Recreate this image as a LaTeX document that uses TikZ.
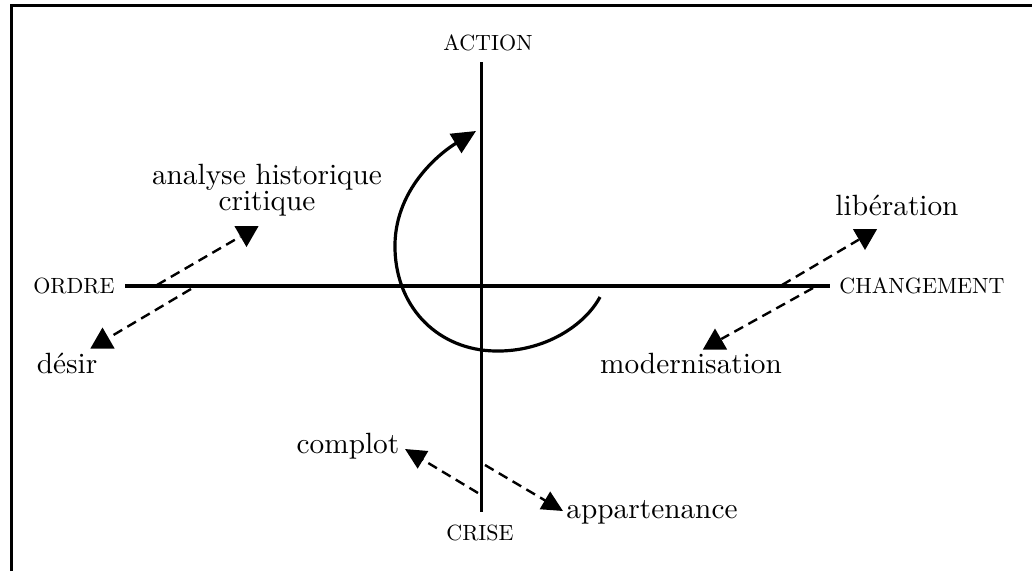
\documentclass[tikz,border=0pt]{standalone}
\usepackage{fontspec}
\setmainfont{lmroman10-regular.otf}
\usetikzlibrary{arrows.meta,shapes.geometric}
\begin{document}
\begin{tikzpicture}[x=1pt,y=-1pt,
  lbl/.style={inner sep=0pt,anchor=base,font=\fontsize{29.3}{26}\selectfont},
  capslbl/.style={inner sep=0pt,anchor=base,font=\fontsize{22}{24}\selectfont},
  dsh/.style={line width=2.4pt,dash pattern=on 10pt off 6pt},
  tri/.style={regular polygon,regular polygon sides=3,fill=black,draw=none,inner sep=0pt,minimum size=28pt},
  tridown/.style={tri,shape border rotate=180},
  arrtip/.style={-{Triangle[length=21pt,width=20pt]}}]
\useasboundingbox (0,0) rectangle (1032,571);
% frame (top and left edges)
\draw[line width=3.5pt,line join=miter] (11.7,571) -- (11.7,5.5) -- (1032,5.5);
% axes
\coordinate (vt) at (481,62);
\coordinate (vb) at (481,512);
\coordinate (hl) at (125,286);
\coordinate (hr) at (830,286);
\draw[line width=3pt] (vt) -- (vb);
\draw[line width=4pt] (hl) -- (hr);
% labels
\node[capslbl] (action) at (488,50) {ACTION};
\node[capslbl] (ordre) at (74,293) {ORDRE};
\node[capslbl] (chg) at (922,293) {CHANGEMENT};
\node[capslbl] (crise) at (480,540) {CRISE};
\node[lbl,align=center] (analyse) at (267,210.5) {analyse historique\\critique};
\node[lbl] (lib) at (897,215) {libération};
\node[lbl] (mod) at (691,373) {modernisation};
\node[lbl] (desir) at (67,373) {désir};
\node[lbl] (complot) at (348,453) {complot};
\node[lbl] (app) at (652,518) {appartenance};
% triangle heads
\node[tridown] (t1) at (246.5,233) {};
\node[tri] (t2) at (102.5,341.5) {};
\node[tridown] (t3) at (865,236) {};
\node[tri] (t4) at (715,342.5) {};
% dashed connectors
\coordinate (s1) at (157,285);
\coordinate (s2) at (191,289);
\coordinate (s3) at (782,285);
\coordinate (s4) at (813,288);
\draw[dsh] (s1) -- (t1);
\draw[dsh] (s2) -- (t2);
\draw[dsh] (s3) -- (t3);
\draw[dsh] (s4) -- (t4);
\coordinate (k1) at (478,493);
\coordinate (k2) at (405,449);
\coordinate (a1) at (485,465);
\coordinate (a2) at (563,511);
\draw[dsh,arrtip] (k1) -- (k2);
\draw[dsh,arrtip] (a1) -- (a2);
% curved arrow
\coordinate (cs) at (600,297);
\coordinate (ce) at (476,131);
\draw[line width=3.2pt,-{Triangle[length=24pt,width=22pt]}] (cs) .. controls (585,325) and (545,352) .. (495,351) .. controls (440,350) and (397,310) .. (395,250) .. controls (393,190) and (440,153) .. (ce);
\end{tikzpicture}
\end{document}
